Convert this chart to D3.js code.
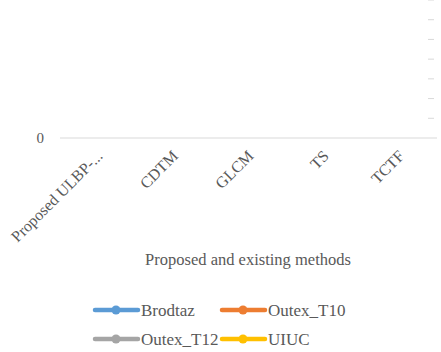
<!DOCTYPE html>
<html>
<head>
<meta charset="utf-8">
<script src="https://cdn.jsdelivr.net/npm/d3@7"></script>
<style>
  body { margin: 0; background: #fff; }
  text { font-family: "Liberation Serif", "Times New Roman", serif; fill: #595959; }
</style>
</head>
<body>
<div id="chart"></div>
<script>
var svgWidth = 441;
var svgHeight = 352;

// chart data
var methods = ["Proposed ULBP-...", "CDTM", "GLCM", "TS", "TCTF"];
var seriesNames = ["Brodtaz", "Outex_T10", "Outex_T12", "UIUC"];
var brodtaz = [99.2, 95.6, 90.4, 88.1, 92.3];
var outexT10 = [98.7, 94.2, 88.9, 86.5, 90.8];
var outexT12 = [98.1, 93.5, 87.6, 85.2, 89.9];
var uiuc = [97.4, 92.1, 86.3, 84.0, 88.7];
var yTicks = [0, 10, 20, 30, 40, 50, 60, 70];
var colors = ["#5b9bd5", "#ed7d31", "#a5a5a5", "#ffc000"];

var seriesValues = [brodtaz, outexT10, outexT12, uiuc];

var svg = d3.select("#chart")
  .append("svg")
  .attr("width", svgWidth)
  .attr("height", svgHeight);

var x = d3.scaleBand()
  .domain(methods)
  .range([60, 437]);

var y = d3.scaleLinear()
  .domain([0, 70])
  .range([138, 0]);

// faint tick marks on right edge
svg.append("g")
  .selectAll("line")
  .data(yTicks.slice(1))
  .enter()
  .append("line")
  .attr("x1", 428)
  .attr("x2", 434)
  .attr("y1", d => y(d))
  .attr("y2", d => y(d))
  .attr("stroke", "#d9d9d9")
  .attr("stroke-width", 1);

// y label "0"
svg.append("text")
  .attr("x", 44)
  .attr("y", y(0) + 5)
  .attr("text-anchor", "end")
  .style("font-size", "15px")
  .text("0");

// x axis line
svg.append("line")
  .attr("x1", 60)
  .attr("x2", 437)
  .attr("y1", y(0))
  .attr("y2", y(0))
  .attr("stroke", "#d9d9d9")
  .attr("stroke-width", 1);

// category labels rotated
svg.append("g")
  .selectAll("text")
  .data(methods)
  .enter()
  .append("text")
  .attr("transform", d => `translate(${x(d) + x.bandwidth() / 2 + 6}, ${y(0) + 19}) rotate(-45)`)
  .attr("text-anchor", "end")
  .style("font-size", "16px")
  .text(d => d);

// lines (values are above the visible area)
var line = d3.line()
  .x((d, i) => x(methods[i]) + x.bandwidth() / 2)
  .y(d => y(d));

seriesValues.forEach(function(vals, k) {
  svg.append("path")
    .datum(vals)
    .attr("fill", "none")
    .attr("stroke", colors[k])
    .attr("stroke-width", 4)
    .attr("d", line);
  svg.append("g")
    .selectAll("circle")
    .data(vals)
    .enter()
    .append("circle")
    .attr("cx", (d, i) => x(methods[i]) + x.bandwidth() / 2)
    .attr("cy", d => y(d))
    .attr("r", 4)
    .attr("fill", colors[k]);
});

// axis title
svg.append("text")
  .attr("x", 248)
  .attr("y", 265)
  .attr("text-anchor", "middle")
  .style("font-size", "16.5px")
  .text("Proposed and existing methods");

// legend
var legendPos = [[95, 310], [222, 310], [95, 339], [222, 339]];
var legend = svg.append("g")
  .selectAll("g")
  .data(seriesNames)
  .enter()
  .append("g")
  .attr("transform", (d, i) => `translate(${legendPos[i][0]}, ${legendPos[i][1]})`);

legend.append("line")
  .attr("x1", 0)
  .attr("x2", 43)
  .attr("stroke", (d, i) => colors[i])
  .attr("stroke-width", 4.5)
  .attr("stroke-linecap", "round");

legend.append("circle")
  .attr("cx", 21)
  .attr("r", 4.5)
  .attr("fill", (d, i) => colors[i]);

legend.append("text")
  .attr("x", 46)
  .attr("y", 5.5)
  .style("font-size", "17px")
  .text(d => d);
</script>
</body>
</html>
